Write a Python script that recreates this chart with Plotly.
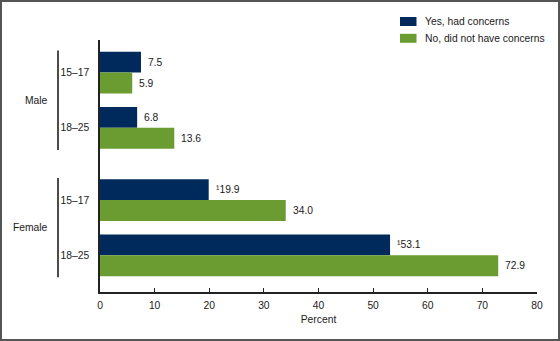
import plotly.graph_objects as go

# Data
groups = ["Male", "Male", "Female", "Female"]
ages = ["15–17", "18–25", "15–17", "18–25"]
yes_vals = [7.5, 6.8, 19.9, 53.1]
no_vals = [5.9, 13.6, 34.0, 72.9]
yes_labels = ["7.5", "6.8", "¹19.9", "¹53.1"]
no_labels = ["5.9", "13.6", "34.0", "72.9"]
series_names = ["Yes, had concerns", "No, did not have concerns"]
x_ticks = [0, 10, 20, 30, 40, 50, 60, 70, 80]

NAVY = "#002a5c"
GREEN = "#6a9c32"
TXT = "#1a1a1a"
FONT = "Liberation Sans, Arial, sans-serif"
FS = 10.3

# row positions: unit spacing, extra gap between sex groups
group_gap = 0.31
pos = []
gi = -1
prev = None
for i, g in enumerate(groups):
    if g != prev:
        gi += 1
        prev = g
    pos.append(i + gi * group_gap)

bw = 0.378

W, H = 560, 341
L, R, T, B = 100, 23, 40, 49
pw, ph = W - L - R, H - T - B

fig = go.Figure()
fig.add_trace(go.Bar(y=pos, x=yes_vals, orientation="h", width=bw, offset=-bw,
                     marker=dict(color=NAVY, line=dict(width=0)), name=series_names[0],
                     showlegend=False))
fig.add_trace(go.Bar(y=pos, x=no_vals, orientation="h", width=bw, offset=0,
                     marker=dict(color=GREEN, line=dict(width=0)), name=series_names[1],
                     showlegend=False))

ann = []
for p, v, t in zip(pos, yes_vals, yes_labels):
    ann.append(dict(x=v, y=p - bw / 2, text=t, xanchor="left", yanchor="middle",
                    xshift=5, showarrow=False, font=dict(size=FS, color=TXT, family=FONT)))
for p, v, t in zip(pos, no_vals, no_labels):
    ann.append(dict(x=v, y=p + bw / 2, text=t, xanchor="left", yanchor="middle",
                    xshift=5, showarrow=False, font=dict(size=FS, color=TXT, family=FONT)))

shapes = []
# group labels and brackets
uniq = []
for g in groups:
    if g not in uniq:
        uniq.append(g)
bx = (58 - L) / pw
for g in uniq:
    ps = [p for p, gg in zip(pos, groups) if gg == g]
    y0, y1 = min(ps) - 0.4, max(ps) + 0.4
    shapes.append(dict(type="line", xref="paper", yref="y", x0=bx, x1=bx, y0=y0, y1=y1,
                       line=dict(color="#111111", width=1.5)))
    ann.append(dict(xref="paper", yref="y", x=(50 - L) / pw, y=(min(ps) + max(ps)) / 2,
                    text=g, xanchor="right", yanchor="middle", showarrow=False,
                    font=dict(size=FS, color=TXT, family=FONT)))

# legend (manual)
def px_x(x):
    return (x - L) / pw

def px_y(y):
    return 1 - (y - T) / ph

for i, (name, col) in enumerate(zip(series_names, [NAVY, GREEN])):
    cy = 21.5 + i * 16.8
    shapes.append(dict(type="rect", xref="paper", yref="paper",
                       x0=px_x(400), x1=px_x(416.5), y0=px_y(cy - 4.5), y1=px_y(cy + 4.5),
                       fillcolor=col, line=dict(width=0)))
    ann.append(dict(xref="paper", yref="paper", x=px_x(423), y=px_y(cy), text=name,
                    xanchor="left", yanchor="middle", showarrow=False,
                    font=dict(size=FS, color=TXT, family=FONT)))

# outer border
shapes.append(dict(type="rect", xref="paper", yref="paper",
                   x0=px_x(1), x1=px_x(559), y0=px_y(340), y1=px_y(1),
                   line=dict(color="#555555", width=2), fillcolor="rgba(0,0,0,0)"))

fig.update_layout(
    width=W, height=H,
    margin=dict(l=L, r=R, t=T, b=B, pad=0),
    paper_bgcolor="white", plot_bgcolor="white",
    font=dict(family=FONT, size=FS, color=TXT),
    barmode="overlay",
    showlegend=False,
    xaxis=dict(range=[0, 80], tickvals=x_ticks, ticks="inside", ticklen=4,
               tickcolor="#222222", tickwidth=1, showline=True, linecolor="#222222",
               linewidth=1.5, showgrid=False, zeroline=False, ticklabelstandoff=3,
               tickfont=dict(size=FS, color=TXT, family=FONT),
               title=dict(text="Percent", standoff=6, font=dict(size=FS, color=TXT, family=FONT))),
    yaxis=dict(range=[pos[-1] + 0.665, -0.591], tickvals=pos, ticktext=ages,
               ticks="", showline=True, linecolor="#222222", linewidth=1.5,
               showgrid=False, zeroline=False, ticklabelstandoff=7,
               tickfont=dict(size=FS, color=TXT, family=FONT)),
    annotations=ann,
    shapes=shapes,
)

fig.write_html("out.html")
